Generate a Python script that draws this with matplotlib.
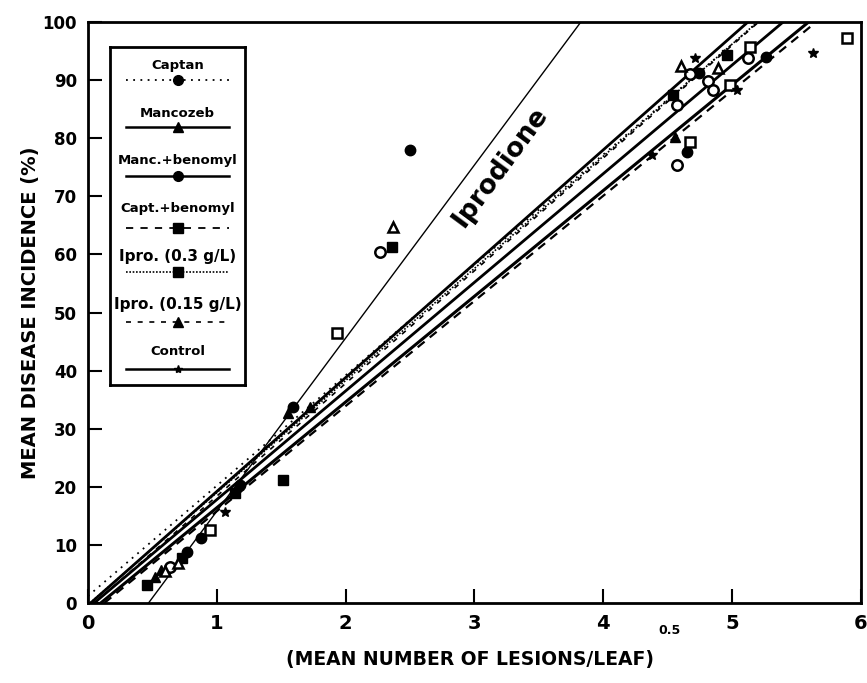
import numpy as np
import matplotlib
matplotlib.use("Agg")
import matplotlib.pyplot as plt
from matplotlib.lines import Line2D

# treatment names as in the legend
treatments = ["Captan", "Mancozeb", "Manc.+benomyl", "Capt.+benomyl",
              "Ipro. (0.3 g/L)", "Ipro. (0.15 g/L)", "Control"]

# observed points (x = sqrt lesions/leaf, y = incidence %)
captan_x = [0.77, 0.88, 1.18, 1.59, 2.50, 4.65, 4.74, 5.26]
captan_y = [8.8, 11.2, 20.3, 33.7, 78.0, 77.6, 91.2, 94.0]
mancozeb_x = [0.52, 0.57, 1.55, 1.72, 4.56]
mancozeb_y = [4.5, 5.7, 32.7, 33.7, 80.2]
mancben_x = [0.64, 2.27, 4.57, 4.57, 4.67, 4.81, 4.85, 5.12]
mancben_y = [6.2, 60.4, 75.4, 85.7, 91.0, 89.8, 88.3, 93.8]
captben_x = [0.46, 0.73, 1.14, 1.51, 2.36, 4.54, 4.96]
captben_y = [3.1, 7.7, 18.9, 21.2, 61.3, 87.4, 94.3]
ipro03_x = [0.95, 1.93, 4.67, 4.98, 5.14, 5.89]
ipro03_y = [12.6, 46.5, 79.3, 89.2, 95.7, 97.2]
ipro015_x = [0.60, 0.70, 2.37, 4.60, 4.89]
ipro015_y = [5.5, 6.9, 64.7, 92.4, 92.1]
control_x = [1.06, 4.38, 4.71, 5.04, 5.63]
control_y = [15.7, 77.1, 93.8, 88.3, 94.7]

# fitted lines: intercept, slope
captan_fit = (1.2, 19.0)
mancozeb_fit = (-0.4, 19.6)
mancben_fit = (-0.9, 18.7)
captben_fit = (-2.3, 18.1)
ipro03_fit = (-0.3, 19.3)
ipro015_fit = (-1.0, 19.4)
control_fit = (-1.8, 18.2)
iprodione_fit = (-14.0, 29.8)

plt.rcParams['font.family'] = ['DejaVu Sans']
plt.rcParams['font.weight'] = 'bold'

fig = plt.figure(figsize=(8.67, 6.83), dpi=100)
ax = fig.add_axes([88 / 867, 80 / 683, 773 / 867, 581 / 683])


def fit_line(fit, **kw):
    # straight line clipped to 0..100 % and 0..6
    b, m = fit
    x0 = max(0.0, (0 - b) / m)
    x1 = min(6.0, (100 - b) / m)
    ax.plot([x0, x1], [b + m * x0, b + m * x1], color='black', **kw)


fit_line(captan_fit, lw=1.3, ls=(0, (1, 3)))
fit_line(mancozeb_fit, lw=2.0)
fit_line(mancben_fit, lw=2.0)
fit_line(captben_fit, lw=1.6, ls=(0, (4, 3)))
fit_line(ipro03_fit, lw=1.2, ls=(0, (1, 1)))
fit_line(ipro015_fit, lw=1.2, ls=(0, (3, 4)))
fit_line(control_fit, lw=2.2)
fit_line(iprodione_fit, lw=1.0)

ms = 7.5
ax.plot(captan_x, captan_y, 'o', color='black', ms=ms)
ax.plot(mancozeb_x, mancozeb_y, '^', color='black', ms=ms)
ax.plot(mancben_x, mancben_y, 'o', mfc='white', mec='black', mew=1.8, ms=ms)
ax.plot(captben_x, captben_y, 's', color='black', ms=ms)
ax.plot(ipro03_x, ipro03_y, 's', mfc='white', mec='black', mew=1.8, ms=ms)
ax.plot(ipro015_x, ipro015_y, '^', mfc='white', mec='black', mew=1.8, ms=ms)
ax.plot(control_x, control_y, '*', color='black', ms=ms)

ax.text(3.2, 75.0, "Iprodione", rotation=53.5, ha='center', va='center',
        fontsize=19, fontweight='bold')

ax.set_xlim(0, 6)
ax.set_ylim(0, 100)
ax.set_xticks(range(0, 7))
ax.set_yticks(range(0, 101, 10))
ax.tick_params(direction='in', length=10, width=1.5, pad=8)
for lab in ax.get_yticklabels():
    lab.set_fontsize(12)
    lab.set_fontweight('bold')
for lab in ax.get_xticklabels():
    lab.set_fontsize(14)
    lab.set_fontweight('bold')
for sp in ax.spines.values():
    sp.set_linewidth(2)

ax.set_ylabel("MEAN DISEASE INCIDENCE (%)", fontsize=14, fontweight='bold')
ax.yaxis.set_label_coords(-0.062, 0.5)
fig.text(470 / 867, 1 - 660 / 683, "(MEAN NUMBER OF LESIONS/LEAF)", ha='center',
         va='center', fontsize=13.5, fontweight='bold')
fig.text(658 / 867, 1 - 631 / 683, "0.5", ha='left', va='center', fontsize=9,
         fontweight='bold')

# legend box drawn as a small inset
lax = fig.add_axes([110 / 867, 1 - 385 / 683, 135 / 867, 338 / 683])
lax.set_xlim(0, 1)
lax.set_ylim(385, 47)
lax.set_xticks([])
lax.set_yticks([])
for sp in lax.spines.values():
    sp.set_linewidth(2)
text_y = [65, 113, 160, 208, 256, 304, 351]
line_y = [80, 127, 176, 228, 272, 322, 369]
styles = [dict(ls=(0, (1, 3)), lw=1.3, marker='o'),
          dict(ls='-', lw=1.8, marker='^'),
          dict(ls='-', lw=1.8, marker='o'),
          dict(ls=(0, (4, 4)), lw=1.3, marker='s'),
          dict(ls=(0, (1, 1)), lw=1.2, marker='s'),
          dict(ls=(0, (3, 4)), lw=1.2, marker='^'),
          dict(ls='-', lw=1.8, marker='*')]
for name, ty, ly, st in zip(treatments, text_y, line_y, styles):
    big = name.startswith("Ipro")
    lax.text(0.5, ty, name, ha='center', va='center',
             fontsize=11 if big else 9.5, fontweight='bold')
    lax.add_line(Line2D([0.12, 0.88], [ly, ly], color='black',
                        ls=st['ls'], lw=st['lw']))
    lax.plot([0.5], [ly], marker=st['marker'], color='black',
             ms=7 if st['marker'] != '*' else 6)

fig.savefig("out.png", dpi=100)
